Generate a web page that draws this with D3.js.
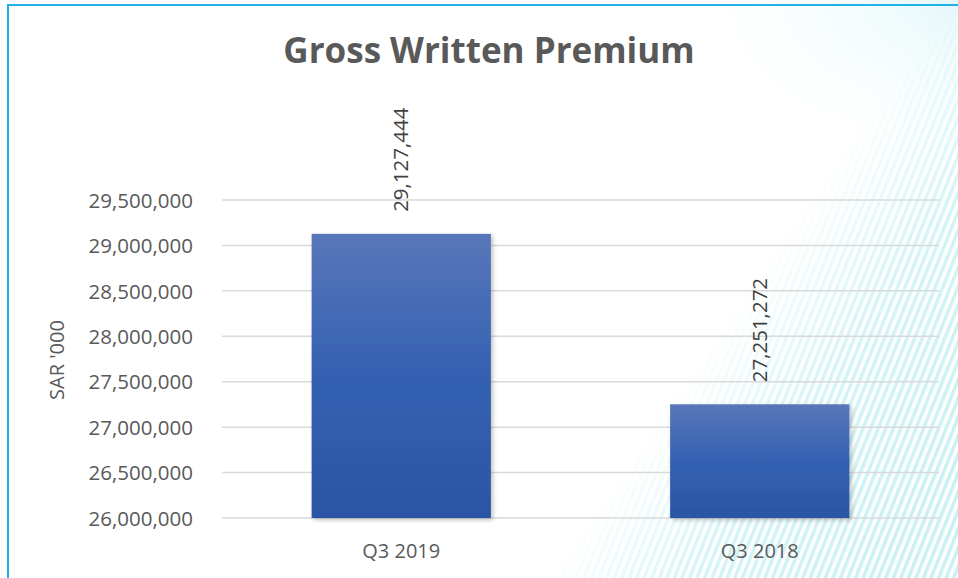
<!DOCTYPE html>
<html>
<head>
<meta charset="utf-8">
<script src="https://cdn.jsdelivr.net/npm/d3@7"></script>
<style>
  body { margin: 0; background: #fff; }
  svg, svg text { font-family: 'Open Sans', 'Noto Sans', sans-serif; }
  svg { display: block; }
</style>
</head>
<body>
<script>
const categories = ['Q3 2019', 'Q3 2018'];
const premiums = [29127444, 27251272];
const yTicks = [26000000, 26500000, 27000000, 27500000, 28000000, 28500000, 29000000, 29500000];

const W = 958, H = 578;
const margin = { top: 200, right: 19, bottom: 60, left: 222 };
const fmt = d3.format(',');
const FONT = "'Open Sans', 'Noto Sans', sans-serif";

const svg = d3.select('body').append('svg')
  .attr('width', W)
  .attr('height', H);

const defs = svg.append('defs');

// diagonal stripes in the background
const pat = defs.append('pattern')
  .attr('id', 'stripes')
  .attr('patternUnits', 'userSpaceOnUse')
  .attr('width', 7)
  .attr('height', 7)
  .attr('patternTransform', 'rotate(22)');
pat.append('rect').attr('width', 3.5).attr('height', 7).attr('fill', '#c9f1f3');

const fade = defs.append('linearGradient')
  .attr('id', 'fade')
  .attr('gradientUnits', 'userSpaceOnUse')
  .attr('x1', 560).attr('y1', 560).attr('x2', 780).attr('y2', 711);
fade.append('stop').attr('offset', '0').attr('stop-color', '#fff').attr('stop-opacity', 0);
fade.append('stop').attr('offset', '0.45').attr('stop-color', '#fff').attr('stop-opacity', 0.8);
fade.append('stop').attr('offset', '1').attr('stop-color', '#fff').attr('stop-opacity', 1);

const mask = defs.append('mask').attr('id', 'stripeMask');
mask.append('rect').attr('width', W).attr('height', H).attr('fill', 'url(#fade)');

const glow = defs.append('radialGradient')
  .attr('id', 'glow')
  .attr('cx', '1').attr('cy', '0').attr('r', '0.3');
glow.append('stop').attr('offset', '0').attr('stop-color', '#e4f8fa');
glow.append('stop').attr('offset', '1').attr('stop-color', '#ffffff').attr('stop-opacity', 0);

const barGrad = defs.append('linearGradient')
  .attr('id', 'barGrad')
  .attr('x1', 0).attr('y1', 0).attr('x2', 0).attr('y2', 1);
barGrad.append('stop').attr('offset', '0').attr('stop-color', '#5876b9');
barGrad.append('stop').attr('offset', '0.5').attr('stop-color', '#3461b2');
barGrad.append('stop').attr('offset', '1').attr('stop-color', '#2b55a4');

const shadow = defs.append('filter').attr('id', 'shadow')
  .attr('x', '-10%').attr('y', '-10%').attr('width', '130%').attr('height', '130%');
shadow.append('feDropShadow')
  .attr('dx', 2).attr('dy', 2).attr('stdDeviation', 2)
  .attr('flood-color', '#000').attr('flood-opacity', 0.25);

svg.append('rect').attr('width', W).attr('height', H).attr('fill', '#fff');
svg.append('rect').attr('width', W).attr('height', H).attr('fill', 'url(#glow)');
svg.append('rect').attr('width', W).attr('height', H)
  .attr('fill', 'url(#stripes)').attr('mask', 'url(#stripeMask)');

// frame lines
svg.append('line').attr('x1', 8).attr('x2', W).attr('y1', 5).attr('y2', 5)
  .attr('stroke', '#22b1e6').attr('stroke-width', 2);
svg.append('line').attr('x1', 8).attr('x2', 8).attr('y1', 4).attr('y2', H)
  .attr('stroke', '#22b1e6').attr('stroke-width', 2);

const x = d3.scaleBand()
  .domain(categories)
  .range([margin.left, W - margin.right])
  .paddingInner(0.5)
  .paddingOuter(0.25);

const y = d3.scaleLinear()
  .domain([26000000, 29500000])
  .range([518, 200]);

// gridlines
svg.append('g')
  .selectAll('line')
  .data(yTicks)
  .join('line')
  .attr('x1', margin.left)
  .attr('x2', W - margin.right)
  .attr('y1', d => y(d))
  .attr('y2', d => y(d))
  .attr('stroke', '#d9d9d9')
  .attr('stroke-width', 1.5);

// y axis
const yAxis = svg.append('g')
  .attr('transform', `translate(${margin.left - 29},0)`)
  .call(d3.axisLeft(y).tickValues(yTicks).tickFormat(fmt).tickSize(0).tickPadding(0))
  .attr('font-family', FONT);
yAxis.select('.domain').remove();
yAxis.selectAll('text')
  .attr('fill', '#595959')
  .style('font-size', '20.5px')
  .attr('dy', '0.35em');

// bars
svg.append('g')
  .selectAll('rect')
  .data(premiums)
  .join('rect')
  .attr('x', (d, i) => x(categories[i]))
  .attr('width', x.bandwidth())
  .attr('y', d => y(d))
  .attr('height', d => y(26000000) - y(d))
  .attr('fill', 'url(#barGrad)')
  .attr('filter', 'url(#shadow)');

// value labels
svg.append('g')
  .selectAll('text')
  .data(premiums)
  .join('text')
  .attr('transform', (d, i) =>
    `translate(${x(categories[i]) + x.bandwidth() / 2 + 7},${y(d) - 22}) rotate(-90)`)
  .attr('text-anchor', 'start')
  .attr('fill', '#404040')
  .style('font-size', '20.5px')
  .text(d => fmt(d));

// x axis labels
const xAxis = svg.append('g')
  .attr('transform', 'translate(0,518)')
  .call(d3.axisBottom(x).tickSize(0).tickPadding(0))
  .attr('font-family', FONT);
xAxis.select('.domain').remove();
xAxis.selectAll('text')
  .attr('fill', '#595959')
  .attr('y', 40)
  .attr('dy', 0)
  .style('font-size', '20px');

// y axis title
svg.append('text')
  .attr('transform', 'translate(64,360) rotate(-90)')
  .attr('text-anchor', 'middle')
  .attr('fill', '#595959')
  .style('font-size', '20px')
  .text("SAR '000");

// chart title
svg.append('text')
  .attr('x', 489)
  .attr('y', 63)
  .attr('text-anchor', 'middle')
  .attr('fill', '#595959')
  .style('font-size', '35px')
  .style('font-weight', 'bold')
  .text('Gross Written Premium');
</script>
</body>
</html>
